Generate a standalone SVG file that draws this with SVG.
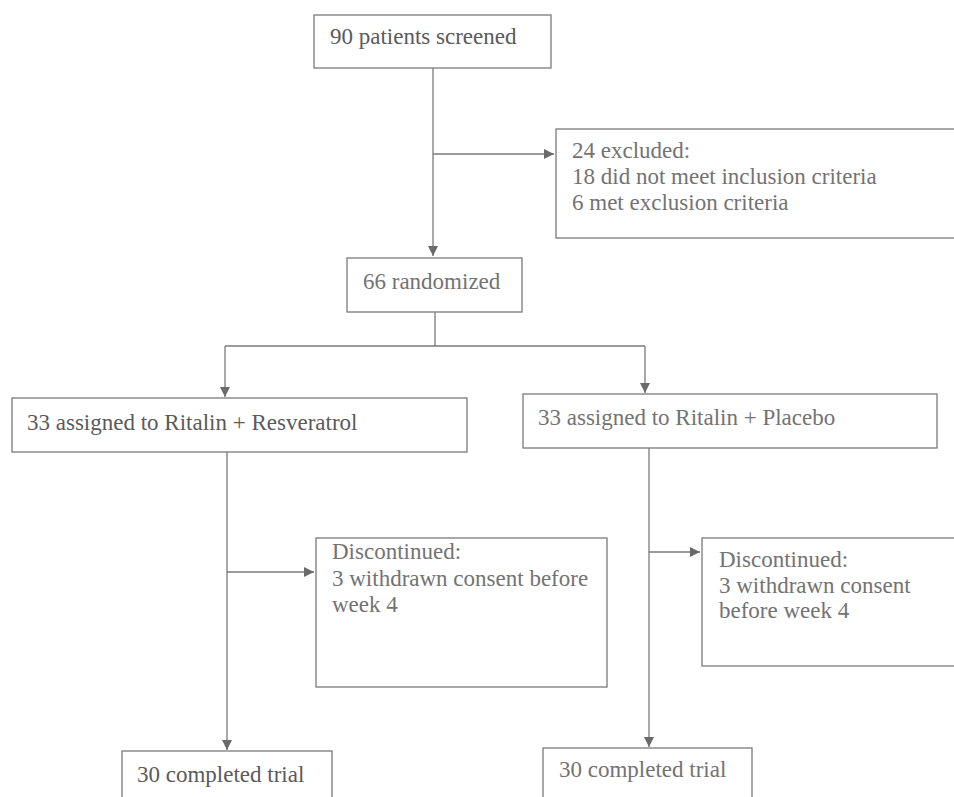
<svg xmlns="http://www.w3.org/2000/svg" width="954" height="797" viewBox="0 0 954 797">
<defs>
<marker id="arr" viewBox="0 0 10 10" refX="10" refY="5" markerWidth="10" markerHeight="10" markerUnits="userSpaceOnUse" orient="auto">
<path d="M0,0 L10,5 L0,10 z" fill="#6a6a6a"/>
</marker>
<style>
.box{fill:#fff;stroke:#7a7a7a;stroke-width:1.3}
text{font-family:'Liberation Serif','DejaVu Serif',serif;font-size:23px;fill:#5a5a5a}
.tl{fill:#737373}
.c{fill:none;stroke:#7a7a7a;stroke-width:1.3}
</style>
</defs>
<rect width="954" height="797" fill="#fff"/>
<g id="connectors">
<path class="c" d="M433,68 V256" marker-end="url(#arr)"/>
<path class="c" d="M433,154 H554" marker-end="url(#arr)"/>
<path class="c" d="M435,312 V346"/>
<path class="c" d="M225,346 H645"/>
<path class="c" d="M225,346 V397" marker-end="url(#arr)"/>
<path class="c" d="M645,346 V393" marker-end="url(#arr)"/>
<path class="c" d="M227,452 V750" marker-end="url(#arr)"/>
<path class="c" d="M227,572 H314" marker-end="url(#arr)"/>
<path class="c" d="M649,448 V747" marker-end="url(#arr)"/>
<path class="c" d="M649,552 H700" marker-end="url(#arr)"/>
</g>
<g id="screened">
<rect class="box" x="314" y="15" width="237" height="53"/>
<text x="330" y="44" font-family="Liberation Serif, serif">90 patients screened</text>
</g>
<g id="excluded">
<rect class="box" x="556" y="129" width="410" height="109"/>
<text class="tl" x="572" y="158" font-family="Liberation Serif, serif">24 excluded:</text>
<text class="tl" x="572" y="184" font-family="Liberation Serif, serif">18 did not meet inclusion criteria</text>
<text class="tl" x="572" y="210" font-family="Liberation Serif, serif">6 met exclusion criteria</text>
</g>
<g id="randomized">
<rect class="box" x="347" y="258" width="175" height="54"/>
<text class="tl" x="363" y="289" font-family="Liberation Serif, serif">66 randomized</text>
</g>
<g id="resveratrol">
<rect class="box" x="12" y="398" width="455" height="54"/>
<text x="27" y="430" font-family="Liberation Serif, serif">33 assigned to Ritalin + Resveratrol</text>
</g>
<g id="placebo">
<rect class="box" x="523" y="394" width="414" height="54"/>
<text class="tl" x="538" y="425" font-family="Liberation Serif, serif">33 assigned to Ritalin + Placebo</text>
</g>
<g id="disc-left">
<rect class="box" x="316" y="538" width="291" height="149"/>
<text class="tl" x="332" y="559" font-family="Liberation Serif, serif">Discontinued:</text>
<text class="tl" x="332" y="586" font-family="Liberation Serif, serif">3 withdrawn consent before</text>
<text class="tl" x="332" y="612" font-family="Liberation Serif, serif">week 4</text>
</g>
<g id="disc-right">
<rect class="box" x="702" y="538" width="270" height="128"/>
<text class="tl" x="719" y="567" font-family="Liberation Serif, serif">Discontinued:</text>
<text class="tl" x="719" y="593" font-family="Liberation Serif, serif">3 withdrawn consent</text>
<text class="tl" x="719" y="618" font-family="Liberation Serif, serif">before week 4</text>
</g>
<g id="completed-left">
<rect class="box" x="122" y="751" width="210" height="60"/>
<text x="137" y="782" font-family="Liberation Serif, serif">30 completed trial</text>
</g>
<g id="completed-right">
<rect class="box" x="543" y="748" width="209" height="60"/>
<text class="tl" x="559" y="777" font-family="Liberation Serif, serif">30 completed trial</text>
</g>
</svg>
